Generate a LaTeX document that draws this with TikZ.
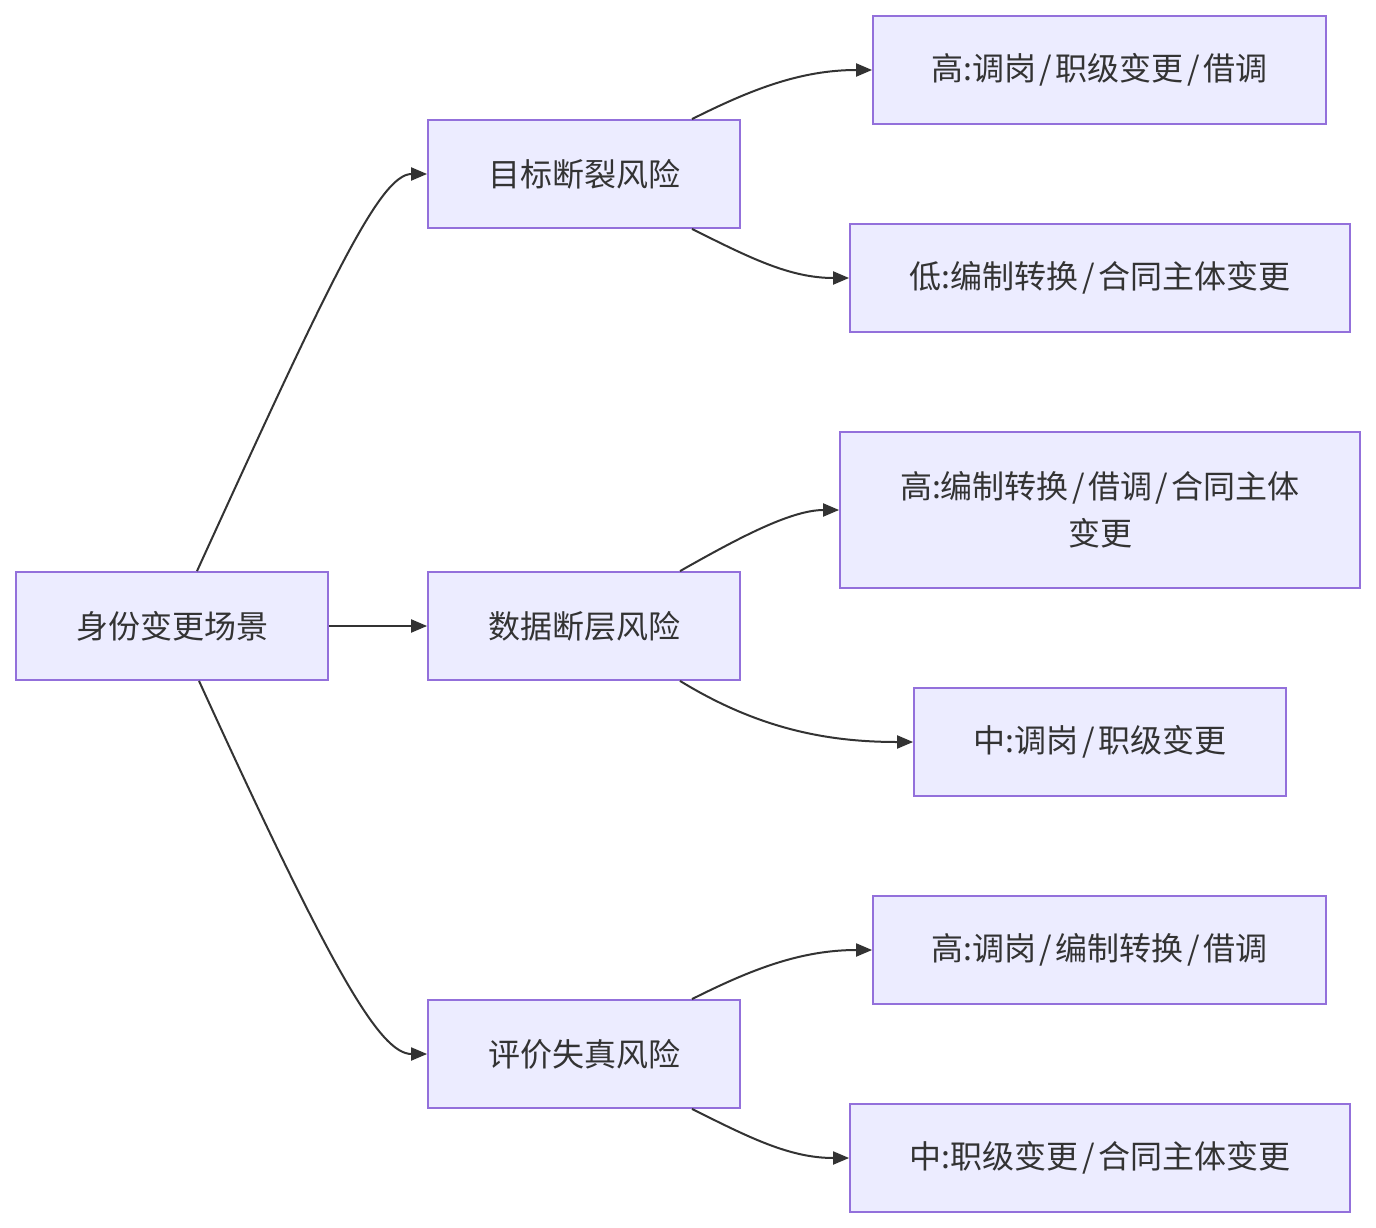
\documentclass[tikz,border=0pt]{standalone}
\usepackage{fontspec}
\newfontfamily\cjk{Noto Sans CJK SC}
\usetikzlibrary{arrows.meta}
\definecolor{boxfill}{HTML}{ECECFF}
\definecolor{boxline}{HTML}{9370DB}
\definecolor{edge}{HTML}{333333}
\definecolor{txt}{HTML}{333333}
\newcommand\myslash{\hspace{3.5pt}/\hspace{3.5pt}}
\begin{document}
\begin{tikzpicture}[x=1pt,y=-1pt,
  box/.style={draw=boxline,fill=boxfill,line width=1.8pt,inner sep=0pt,
    font=\cjk\fontsize{32}{47}\selectfont,text=txt,align=center},
  conn/.style={draw=edge,line width=2pt,-{Triangle[length=16pt,width=13pt]}}]
\useasboundingbox (0,0) rectangle (1376,1228);
\node[box,minimum width=312pt,minimum height=108pt] (a) at (172,626) {身份变更场景};
\node[box,minimum width=312pt,minimum height=108pt] (b1) at (584,174) {目标断裂风险};
\node[box,minimum width=312pt,minimum height=108pt] (b2) at (584,626) {数据断层风险};
\node[box,minimum width=312pt,minimum height=108pt] (b3) at (584,1054) {评价失真风险};
\node[box,minimum width=453pt,minimum height=108pt] (c1) at (1099.5,70) {高:调岗\myslash 职级变更\myslash 借调};
\node[box,minimum width=500pt,minimum height=108pt] (c2) at (1100,278) {低:编制转换\myslash 合同主体变更};
\node[box,minimum width=520pt,minimum height=156pt] (c3) at (1100,510) {高:编制转换\myslash 借调\myslash 合同主体\\变更};
\node[box,minimum width=372pt,minimum height=108pt] (c4) at (1100,742) {中:调岗\myslash 职级变更};
\node[box,minimum width=453pt,minimum height=108pt] (c5) at (1099.5,950) {高:调岗\myslash 编制转换\myslash 借调};
\node[box,minimum width=500pt,minimum height=108pt] (c6) at (1100,1158) {中:职级变更\myslash 合同主体变更};
\draw[conn] ([xshift=25pt]a.north) .. controls (330,280) and (380,174) .. (b1.west);
\draw[conn] (a.east) -- (b2.west);
\draw[conn] ([xshift=27pt]a.south) .. controls (332,972) and (380,1054) .. (b3.west);
\draw[conn] ([xshift=108pt]b1.north) .. controls (750,90) and (800,70) .. (c1.west);
\draw[conn] ([xshift=108pt]b1.south) .. controls (750,258) and (790,278) .. (c2.west);
\draw[conn] ([xshift=96pt]b2.north) .. controls (735,540) and (790,510) .. (c3.west);
\draw[conn] ([xshift=96pt]b2.south) .. controls (760,730) and (830,742) .. (c4.west);
\draw[conn] ([xshift=108pt]b3.north) .. controls (750,970) and (800,950) .. (c5.west);
\draw[conn] ([xshift=108pt]b3.south) .. controls (750,1138) and (790,1158) .. (c6.west);
\end{tikzpicture}
\end{document}
